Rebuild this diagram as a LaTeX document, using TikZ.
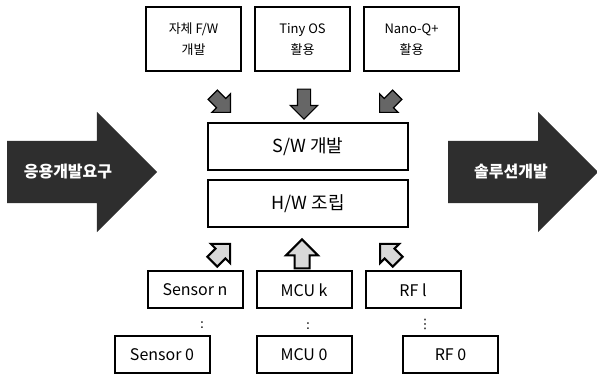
\documentclass[tikz,border=0pt]{standalone}
\usepackage{fontspec}
\setmainfont{Noto Sans CJK KR}
\newfontfamily\symfont{DejaVu Sans}
\usepackage{tikz}
\usetikzlibrary{shapes.arrows, positioning}

\begin{document}
\begin{tikzpicture}[
        x=1pt, y=1pt,
        node distance=12pt and 12pt,
        topbox/.style={
            rectangle,
            draw=black,
            line width=2pt,
            minimum width=95pt,
            minimum height=64pt,
            inner sep=0pt,
            align=center,
            font=\fontsize{13}{21}\selectfont
        },
        mainbox/.style={
            rectangle,
            draw=black,
            line width=2pt,
            minimum width=200pt,
            minimum height=47pt,
            font=\fontsize{18}{20}\selectfont
        },
        partbox/.style={
            rectangle,
            draw=black,
            line width=2pt,
            minimum width=95pt,
            minimum height=37pt,
            font=\fontsize{16}{18}\selectfont
        },
        bigarrow/.style={
            single arrow,
            fill=black!82,
            minimum height=150pt,
            inner xsep=0pt,
            inner ysep=31pt,
            single arrow head extend=29pt,
            single arrow tip angle=90
        },
        bigtext/.style={
            text=white,
            font=\fontsize{16}{18}\selectfont\bfseries
        },
        inarrow/.style={
            single arrow,
            draw=black,
            fill=black!60,
            line width=1.2pt,
            inner xsep=0pt,
            single arrow tip angle=90
        },
        outarrow/.style={
            single arrow,
            draw=black,
            fill=gray!30,
            line width=2pt,
            inner xsep=0pt,
            single arrow tip angle=90
        },
        dots/.style={font=\symfont\fontsize{13}{13}\selectfont, inner sep=0pt}
    ]

    \useasboundingbox (0,0) rectangle (597,374);

    % main blocks
    \node (sw) [mainbox] at (308,227.5) {S/W 개발};
    \node (hw) [mainbox, below=8pt of sw] {H/W 조립};

    % software sources
    \node (tinyos) [topbox] at (302.5,334.5) {Tiny OS\\활용};
    \node (ownfw) [topbox, left=of tinyos] {자체 F/W\\개발};
    \node (nanoq) [topbox, right=of tinyos] {Nano-Q+\\활용};

    % hardware parts
    \node (mcuk) [partbox] at (304,84) {MCU k};
    \node (sensorn) [partbox, left=of mcuk] {Sensor n};
    \node (rfl) [partbox, right=of mcuk] {RF l};
    \node (mcu0) [partbox, below=26pt of mcuk] {MCU 0};
    \node (sensor0) [partbox, below=26pt of sensorn, xshift=-33pt] {Sensor 0};
    \node (rf0) [partbox, below=26pt of rfl, xshift=37.5pt] {RF 0};

    \node (sensordots) [dots] at (202,49) {:};
    \node (mcudots) [dots] at (308,48) {:};
    \node (rfdots) [dots] at (425,50) {⋮};

    % big arrows
    \node (need) [bigarrow, anchor=tail] at (7,202) {};
    \node (needtext) [bigtext] at ([xshift=61pt]need.tail) {응용개발요구};
    \node (sol) [bigarrow, anchor=tail] at (448,202) {};
    \node (soltext) [bigtext] at ([xshift=63pt]sol.tail) {솔루션개발};

    % small arrows into the blocks
    \node (in1) [inarrow, minimum height=25pt, inner ysep=6pt,
        single arrow head extend=6.5pt, rotate=-45, anchor=tip] at (231,261) {};
    \node (in2) [inarrow, minimum height=30pt, inner ysep=6pt,
        single arrow head extend=7pt, rotate=-90, anchor=tip] at (304,254) {};
    \node (in3) [inarrow, minimum height=25pt, inner ysep=6pt,
        single arrow head extend=6.5pt, rotate=-135, anchor=tip] at (379,261) {};

    \node (out1) [outarrow, minimum height=25pt, inner ysep=6pt,
        single arrow head extend=6.5pt, rotate=45, anchor=tip] at (231,131) {};
    \node (out2) [outarrow, minimum height=29pt, inner ysep=6.5pt,
        single arrow head extend=8.5pt, rotate=90, anchor=tip] at (302,136) {};
    \node (out3) [outarrow, minimum height=25pt, inner ysep=6pt,
        single arrow head extend=6.5pt, rotate=135, anchor=tip] at (379,131) {};

\end{tikzpicture}
\end{document}
